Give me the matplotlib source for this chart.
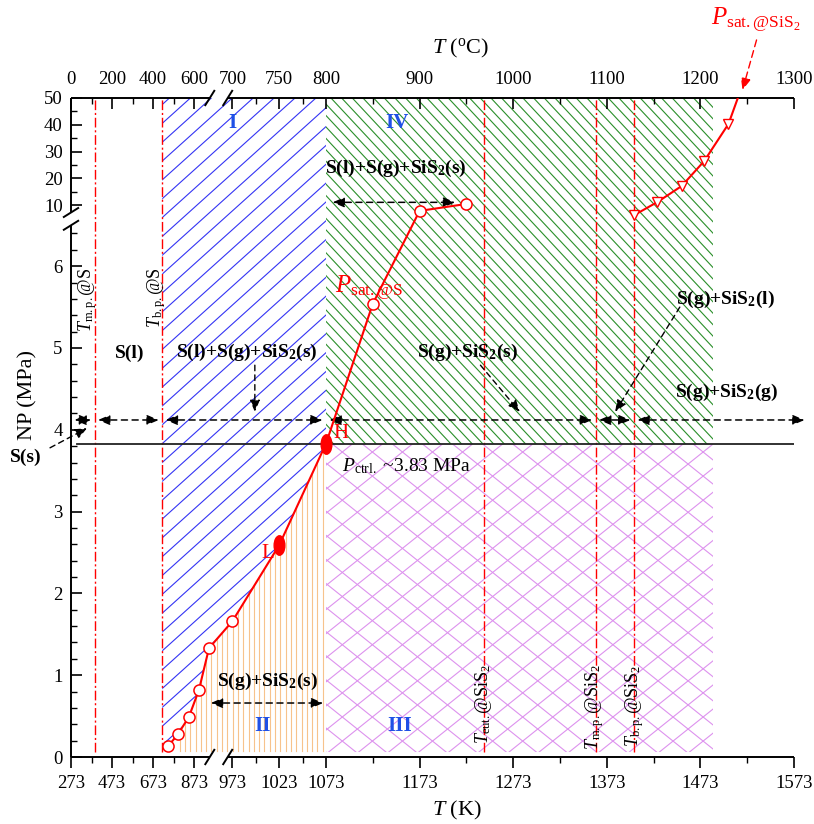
import numpy as np
import matplotlib
matplotlib.use('Agg')
import matplotlib.pyplot as plt
from matplotlib.patches import Polygon
from matplotlib.collections import LineCollection
from matplotlib.markers import MarkerStyle
from matplotlib.transforms import Affine2D

plt.rcParams['font.family'] = ['Liberation Serif', 'DejaVu Serif']
plt.rcParams['mathtext.fontset'] = 'custom'
plt.rcParams['mathtext.rm'] = 'Liberation Serif'
plt.rcParams['mathtext.it'] = 'Liberation Serif:italic'
plt.rcParams['mathtext.bf'] = 'Liberation Serif:bold'

# saturation pressure of S (K, MPa)
T_S = [746, 795, 848, 897, 946, 973, 1023, 1073, 1123, 1173, 1223]
P_S = [0.13, 0.28, 0.49, 0.82, 1.33, 1.66, 2.59, 3.83, 5.54, 7.8, 10.4]
# saturation pressure of SiS2
T_SIS2 = [1402, 1427, 1453, 1477, 1503, 1513]
P_SIS2 = [7.05, 11.1, 17.1, 26.4, 40.3, 50.0]
T_L, P_L = 1023, 2.59
T_H, P_H = 1073, 3.83
P_CTRL = 3.83
T_LINES = [388, 718, 1242, 1361, 1402]   # m.p./b.p. of S, eut./m.p./b.p. of SiS2
T_BP_S = 718
T_REG_HI = 1486
P_LOW = 0.06
ARROW_T = [273, 388, 718, 1073, 1361, 1402, 1588]
ARROW_P = 4.12

xticks_K = [273, 473, 673, 873, 973, 1023, 1073, 1173, 1273, 1373, 1473, 1573]
xminor_K = [373, 573, 773, 998, 1048, 1123, 1223, 1323, 1423, 1523]
xticks_C = [0, 200, 400, 600, 700, 750, 800, 900, 1000, 1100, 1200, 1300]
xminor_C = [100, 300, 500, 725, 775, 850, 950, 1050, 1150, 1250]
yticks = [0, 1, 2, 3, 4, 5, 6, 10, 20, 30, 40, 50]
yminor = [round(0.2 * i, 1) for i in range(1, 33) if i % 5] + [15, 25, 35, 45]

# broken axes as piecewise linear scales (pixel offsets inside the axes)
KB = [0, 273, 950, 968, 1573, 3000]
XB = [-56.0, 0, 138.8, 156.7, 723, 723 + 1427 * 0.936]
PB = [-10, 0, 6.5, 7.2, 50, 100]
YB = [-818, 0, 531.7, 544.5, 659, 792.75]
AX_W, AX_H = 723.0, 659.0


def fx(v):
    return np.interp(v, KB, XB)


def ix(p):
    return np.interp(p, XB, KB)


def fy(v):
    return np.interp(v, PB, YB)


def iy(p):
    return np.interp(p, YB, PB)


def hatch(ax, verts, color, angle, gap, lw=0.8):
    poly = Polygon(verts, closed=True, fill=False, edgecolor='none',
                   transform=ax.transData)
    ax.add_patch(poly)
    t = np.deg2rad(angle)
    d = np.array([np.cos(t), np.sin(t)])
    n = np.array([-np.sin(t), np.cos(t)])
    L = np.hypot(AX_W, AX_H)
    c = np.array([AX_W, AX_H]) / 2
    size = np.array([AX_W, AX_H])
    segs = []
    for k in np.arange(-L / 2, L / 2 + gap, gap):
        segs.append([(c + n * k - d * L) / size, (c + n * k + d * L) / size])
    lc = LineCollection(segs, colors=color, linewidths=lw, transform=ax.transAxes)
    ax.add_collection(lc, autolim=False)
    lc.set_clip_path(poly)


fig = plt.figure(figsize=(8.14, 8.24), dpi=100)
ax = fig.add_axes([71 / 814, 67 / 824, 723 / 814, 659 / 824])
ax.set_xscale('function', functions=(fx, ix))
ax.set_yscale('function', functions=(fy, iy))

# regions
reg1 = [(T_BP_S, 50), (T_BP_S, P_S[0])] + list(zip(T_S[:8], P_S[:8])) + [(T_H, 50)]
reg2 = [(T_S[1], P_LOW)] + list(zip(T_S[1:8], P_S[1:8])) + [(T_H, P_LOW)]
reg3 = [(T_H, P_LOW), (T_REG_HI, P_LOW), (T_REG_HI, P_CTRL), (T_H, P_CTRL)]
reg4 = [(T_H, P_CTRL), (T_REG_HI, P_CTRL), (T_REG_HI, 50), (T_H, 50)]
hatch(ax, reg1, '#3434f4', 42, 14)
hatch(ax, reg2, '#f7c38c', 90, 5.3)
hatch(ax, reg3, '#dd92ee', 38.7, 18.8)
hatch(ax, reg3, '#dd92ee', -38.7, 18.8)
hatch(ax, reg4, '#2a8f2a', -47, 7.8)

ax.vlines(T_LINES, P_LOW, 50, colors='red', linestyles=(0, (7, 2, 1.5, 2)), lw=1.0)
ax.plot([300, 1573], [P_CTRL, P_CTRL], color='#222222', lw=1.3)

# saturation curves
ax.plot(T_S, P_S, color='red', lw=1.5, zorder=4)
open_idx = [i for i in range(len(T_S)) if T_S[i] not in (T_L, T_H)]
ax.plot([T_S[i] for i in open_idx], [P_S[i] for i in open_idx], 'o', ms=8,
        mfc='white', mec='red', mew=1.1, zorder=5)
ell = MarkerStyle('o', transform=Affine2D().scale(0.55, 1.0))
ax.plot([T_L, T_H], [P_L, P_H], ls='none', marker=ell, ms=14, color='red', zorder=5)
ax.plot(T_SIS2, P_SIS2, color='red', lw=1.5, zorder=4)
ax.plot(T_SIS2[:-1], P_SIS2[:-1], 'v', ms=7.5, mfc='white', mec='red', mew=1.0, zorder=5)

# arrows along the 4.12 MPa row
for a, b in zip(ARROW_T[:-1], ARROW_T[1:]):
    ax.annotate('', xy=(b, ARROW_P), xytext=(a, ARROW_P), annotation_clip=False,
                arrowprops=dict(arrowstyle='<|-|>,head_length=0.7,head_width=0.3',
                                ls=(0, (4, 3)), lw=1.1, color='k', shrinkA=2.5, shrinkB=2.5))
for a, b, y in [(1080, 1211, 11.0), (951, 1070, 0.66)]:
    ax.annotate('', xy=(b, y), xytext=(a, y),
                arrowprops=dict(arrowstyle='<|-|>,head_length=0.7,head_width=0.3',
                                ls=(0, (4, 3)), lw=1.1, color='k', shrinkA=0, shrinkB=0))

pk = dict(arrowstyle='-|>,head_length=0.7,head_width=0.3', ls=(0, (4, 3)),
          lw=1.0, color='k', shrinkA=0, shrinkB=0)
for tail, head in [((997, 4.79), (997, 4.22)), ((1238, 4.79), (1280, 4.22)),
                   ((1451, 5.5), (1382, 4.22))]:
    ax.annotate('', xy=head, xytext=tail, arrowprops=pk)
ax.annotate('', xy=(351, 4.02), xytext=(-0.029, 3.78),
            textcoords=ax.get_yaxis_transform(), arrowprops=pk, annotation_clip=False)
ax.annotate('', xy=(1518, 53), xytext=(1533, 71.7), annotation_clip=False,
            arrowprops=dict(pk, color='red', ls=(0, (5, 3))))

# labels
bold = dict(fontsize=14, fontweight='bold', ha='center', va='center')
ax.text(561, 4.94, 'S(l)', **bold)
ax.text(988, 4.94, r'S(l)+S(g)+SiS$_\mathbf{2}$(s)', **bold)
ax.text(1224, 4.94, r'S(g)+SiS$_\mathbf{2}$(s)', **bold)
ax.text(1148, 23.8, r'S(l)+S(g)+SiS$_\mathbf{2}$(s)', **bold)
ax.text(1500, 5.59, r'S(g)+SiS$_\mathbf{2}$(l)', **bold)
ax.text(1501, 4.46, r'S(g)+SiS$_\mathbf{2}$(g)', **bold)
ax.text(1011, 0.92, r'S(g)+SiS$_\mathbf{2}$(s)', **bold)
ax.text(-0.062, 3.66, 'S(s)', transform=ax.get_yaxis_transform(), clip_on=False, **bold)

roman = dict(fontsize=15, fontweight='bold', color='#1f50e6', ha='center', va='center')
ax.text(973, 40.7, 'I', **roman)
ax.text(1149, 40.7, 'IV', **roman)
ax.text(1005, 0.38, 'II', **roman)
ax.text(1152, 0.38, 'III', **roman)

ax.text(1083, 5.73, r'$P_\mathrm{sat.@S}$', color='red', fontsize=18, ha='left', va='center')
ax.text(1532, 79, r'$P_\mathrm{sat.@SiS_2}$', color='red', fontsize=18,
        ha='center', va='center', clip_on=False)
ax.text(1089, 3.96, 'H', color='red', fontsize=15, ha='center', va='center')
ax.text(1011, 2.49, 'L', color='red', fontsize=15, ha='center', va='center')
ax.text(1090, 3.55, r'$P_\mathrm{ctrl.}$ ~3.83 MPa', fontsize=14, ha='left', va='center')

vt = dict(fontsize=13, rotation=90, ha='center', va='center')
ax.text(356, 5.59, r'$T_\mathrm{m.p.}$@S', **vt)
ax.text(692, 5.62, r'$T_\mathrm{b.p.}$@S', **vt)
ax.text(1241, 0.65, r'$T_\mathrm{eut.}$@SiS$_2$', **vt)
ax.text(1360, 0.61, r'$T_\mathrm{m.p.}$@SiS$_2$', **vt)
ax.text(1403, 0.62, r'$T_\mathrm{b.p.}$@SiS$_2$', **vt)

# axes, ticks and break marks
ax.set_xlim(273, 1573)
ax.set_ylim(0, 50)
for s in ax.spines.values():
    s.set_visible(False)
sp = dict(color='k', lw=1.4, clip_on=False, solid_capstyle='butt')
ax.plot([0, 0], [0, 6.5], transform=ax.get_yaxis_transform(), **sp)
ax.plot([0, 0], [7.2, 50], transform=ax.get_yaxis_transform(), **sp)
for yy in (0, 1):
    ax.plot([273, 950], [yy, yy], transform=ax.get_xaxis_transform(), **sp)
    ax.plot([968, 1573], [yy, yy], transform=ax.get_xaxis_transform(), **sp)
    for kb in (950, 968):
        xf = fx(kb) / AX_W
        ax.plot([xf - 5 / AX_W, xf + 5 / AX_W], [yy - 8 / AX_H, yy + 8 / AX_H],
                transform=ax.transAxes, **sp)
for pb in (6.5, 7.2):
    yf = fy(pb) / AX_H
    ax.plot([-8 / AX_W, 8 / AX_W], [yf - 5 / AX_H, yf + 5 / AX_H],
            transform=ax.transAxes, **sp)

ax.set_xticks(xticks_K)
ax.set_xticklabels([str(k) for k in xticks_K])
ax.set_xticks(xminor_K, minor=True)
ax.set_yticks(yticks)
ax.set_yticklabels([str(v) for v in yticks])
ax.set_yticks(yminor, minor=True)
ax.tick_params(axis='x', which='both', direction='out', top=False, labelsize=13.5, pad=5)
ax.tick_params(axis='y', which='both', direction='in', right=False, labelsize=13.5, pad=6)
ax.tick_params(which='major', length=8, width=1.2)
ax.tick_params(which='minor', length=4.5, width=1.0)

ax2 = ax.twiny()
ax2.set_xscale('function', functions=(fx, ix))
ax2.set_xlim(273, 1573)
ax2.set_xticks([c + 273 for c in xticks_C])
ax2.set_xticklabels([str(c) for c in xticks_C])
ax2.set_xticks([c + 273 for c in xminor_C], minor=True)
ax2.tick_params(axis='x', which='both', direction='in', labelsize=13.5, pad=7.5)
ax2.tick_params(which='major', length=8, width=1.2)
ax2.tick_params(which='minor', length=4.5, width=1.0)
for s in ax2.spines.values():
    s.set_visible(False)

fig.text(432 / 814, 1 - 48 / 824, r'$T$ ($^\mathrm{o}$C)', fontsize=16, ha='left', va='center')
fig.text(432 / 814, 1 - 810 / 824, r'$T$ (K)', fontsize=16, ha='left', va='center')
fig.text(28 / 814, 1 - 395 / 824, 'NP (MPa)', fontsize=16, rotation=90, ha='center', va='center')

fig.savefig('out.png', dpi=100)
